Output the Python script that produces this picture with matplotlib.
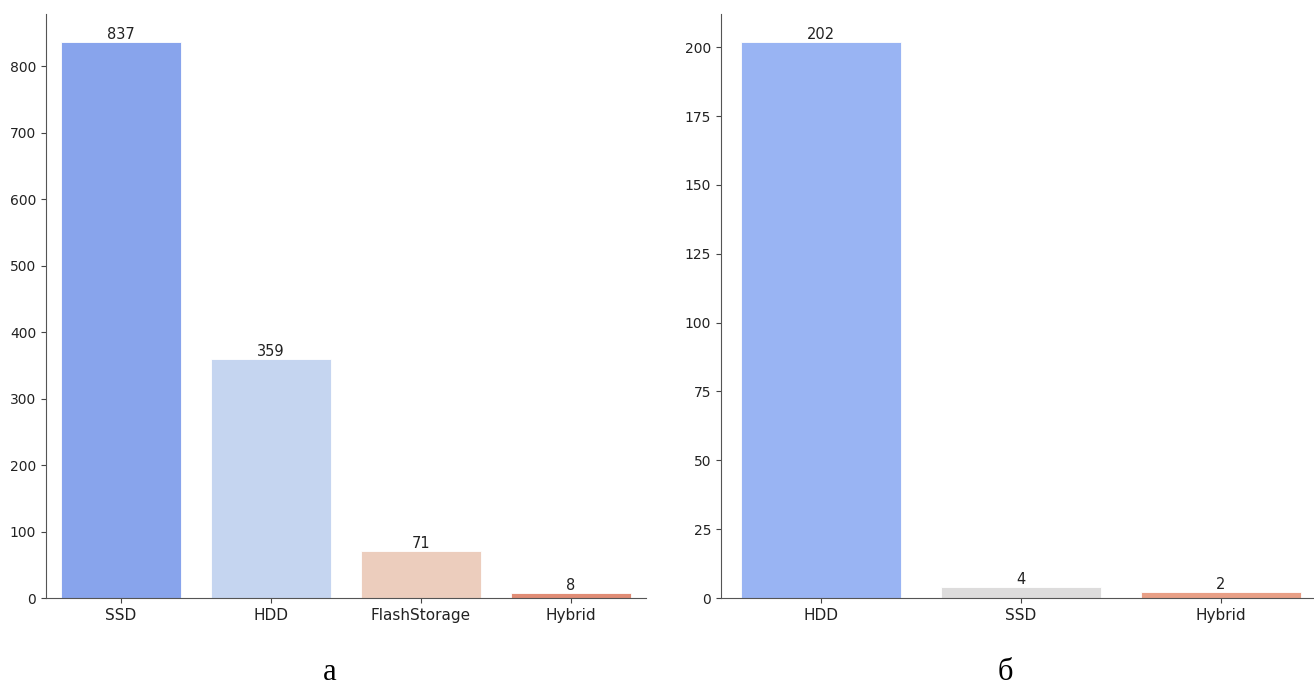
import matplotlib
matplotlib.use('Agg')
import matplotlib.pyplot as plt
import seaborn as sns
import numpy as np

# data
storage_a = ['SSD', 'HDD', 'FlashStorage', 'Hybrid']
counts_a = [837, 359, 71, 8]
storage_b = ['HDD', 'SSD', 'Hybrid']
counts_b = [202, 4, 2]
captions = ['а', 'б']

fig = plt.figure(figsize=(13.14, 6.86), dpi=100)
W, H = 1314, 686
ax1 = fig.add_axes([46 / W, 1 - 598 / H, 600 / W, 584 / H])
ax2 = fig.add_axes([721 / W, 1 - 598 / H, 600 / W, 584 / H])

for ax, cats, vals in [(ax1, storage_a, counts_a), (ax2, storage_b, counts_b)]:
    sns.barplot(x=cats, y=vals, hue=cats, palette='coolwarm', legend=False, ax=ax,
                saturation=0.8, edgecolor='white', linewidth=0.6)
    for c in ax.containers:
        ax.bar_label(c, fontsize=10.5, padding=0, color='#222222')
    sns.despine(ax=ax)
    ax.tick_params(axis='y', labelsize=10, colors='#444444', labelcolor='#222222')
    ax.tick_params(axis='x', labelsize=11, colors='#444444', labelcolor='#222222')
    for s in ['left', 'bottom']:
        ax.spines[s].set_color('#555555')
    ax.set_xlim(-0.5, len(cats) - 0.5)
    ax.set_ylim(0, max(vals) * 1.05)

fig.text(330 / W, 1 - 673 / H, captions[0], family='Liberation Serif', fontsize=22,
         ha='center', va='center')
fig.text(1005 / W, 1 - 673 / H, captions[1], family='Liberation Serif', fontsize=22,
         ha='center', va='center')

plt.savefig('out.png', dpi=100)
